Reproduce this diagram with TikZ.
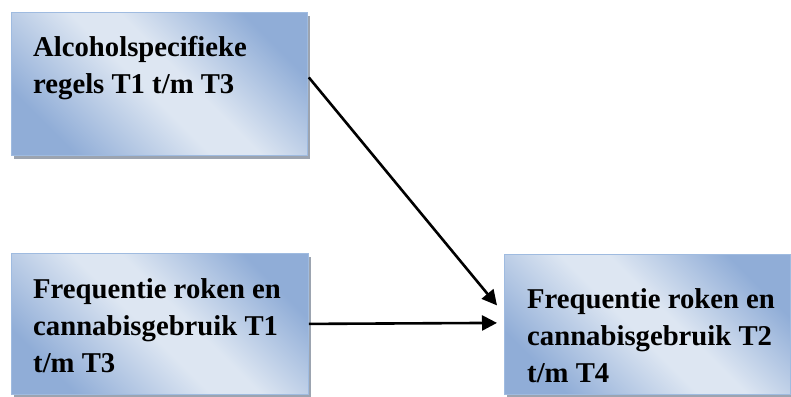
\documentclass[tikz,border=0pt]{standalone}
\usepackage{fontspec}
\setmainfont{Liberation Serif}
\usetikzlibrary{arrows.meta,shadows,calc}
\definecolor{bdark}{HTML}{90ADD7}
\definecolor{blight}{HTML}{DDE6F2}
\definecolor{bborder}{HTML}{9FBBE0}
\definecolor{bshadow}{HTML}{9CA4B0}
\pgfdeclarehorizontalshading{boxshade}{100bp}{color(0bp)=(bdark); color(25bp)=(bdark); color(47bp)=(blight); color(55bp)=(blight); color(75bp)=(bdark); color(100bp)=(bdark)}
\begin{document}
\begin{tikzpicture}[x=1pt,y=-1pt,
  box/.style={draw=bborder, line width=0.8pt, shading=boxshade, shading angle=45,
    general shadow={fill=bshadow, shadow xshift=3pt, shadow yshift=-4pt},
    inner sep=0pt, anchor=north west},
  lbl/.style={anchor=north west, inner sep=0pt, align=left,
    font=\fontsize{28.7}{37}\selectfont\bfseries},
  conn/.style={line width=2.6pt, -{Triangle[length=15pt,width=15pt]}}]
\useasboundingbox (0,0) rectangle (791,396);
\node[box, minimum width=296pt, minimum height=143pt] (a) at (11,12) {};
\node[box, minimum width=297pt, minimum height=141pt] (b) at (11,253) {};
\node[box, minimum width=286pt, minimum height=140pt] (c) at (504,254) {};
\node[lbl] (ta) at (33,36) {Alcoholspecifieke\\regels T1 t/m T3};
\node[lbl] (tb) at (33,278) {Frequentie roken en\\cannabisgebruik T1\\t/m T3};
\node[lbl] (tc) at (527,288) {Frequentie roken en\\cannabisgebruik T2\\t/m T4};
\draw[conn] ($(a.east)+(1,-6.5)$) -- ($(c.west)+(-7,-19)$);
\draw[conn] (b.east) -- ($(c.west)+(-7,-1.5)$);
\end{tikzpicture}
\end{document}
